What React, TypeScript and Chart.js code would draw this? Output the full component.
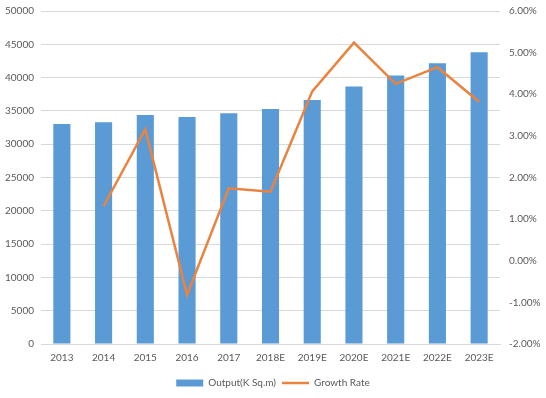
import React, { useEffect, useRef } from "react";
import { Chart, registerables } from "chart.js";

Chart.register(...registerables);

const categories = ["2013", "2014", "2015", "2016", "2017", "2018E", "2019E", "2020E", "2021E", "2022E", "2023E"];
const outputValues = [33050, 33300, 34400, 34100, 34650, 35300, 36650, 38650, 40300, 42150, 43800];
const growthRates: (number | null)[] = [null, 1.31, 3.16, -0.82, 1.74, 1.66, 4.07, 5.24, 4.25, 4.65, 3.82];
const leftTicks = { min: 0, max: 50000, step: 5000 };
const rightTicks = { min: -2, max: 6, step: 1 };

const FONT = "Lato, 'Open Sans', sans-serif";
const TEXT = "#595959";
const GRID = "#d9d9d9";

export default function App() {
  const ref = useRef<HTMLCanvasElement | null>(null);
  useEffect(() => {
    if (!ref.current) return;
    const chart = new Chart(ref.current, {
      type: "bar",
      data: {
        labels: categories,
        datasets: [
          {
            type: "line",
            label: "Growth Rate",
            data: growthRates,
            borderColor: "#EA833F",
            backgroundColor: "#EA833F",
            borderWidth: 2.5,
            pointRadius: 0,
            tension: 0,
            yAxisID: "y1",
            order: 0,
          } as any,
          {
            type: "bar",
            label: "Output(K Sq.m)",
            data: outputValues,
            backgroundColor: "#5B9BD5",
            categoryPercentage: 1,
            barPercentage: 0.41,
            yAxisID: "y",
            order: 1,
          } as any,
        ],
      },
      options: {
        animation: false,
        responsive: false,
        devicePixelRatio: 1,
        layout: { padding: { top: 0, left: 0, right: 0, bottom: 0 } },
        plugins: {
          tooltip: { enabled: false },
          legend: {
            position: "bottom",
            labels: {
              font: { family: FONT, size: 10 },
              color: TEXT,
              usePointStyle: true,
              pointStyleWidth: 27,
              boxHeight: 7,
              padding: 6,
              generateLabels: () => [
                {
                  text: "Output(K Sq.m)",
                  fillStyle: "#5B9BD5",
                  strokeStyle: "#5B9BD5",
                  lineWidth: 0,
                  pointStyle: "rect",
                  fontColor: TEXT,
                  datasetIndex: 1,
                } as any,
                {
                  text: "Growth Rate",
                  fillStyle: "#EA833F",
                  strokeStyle: "#EA833F",
                  lineWidth: 2.5,
                  pointStyle: "line",
                  fontColor: TEXT,
                  datasetIndex: 0,
                } as any,
              ],
            },
          },
        },
        scales: {
          x: {
            grid: { display: false, drawTicks: false },
            border: { color: GRID },
            ticks: { font: { family: FONT, size: 10 }, color: TEXT, padding: 8, maxRotation: 0, autoSkip: false },
          },
          y: {
            position: "left",
            min: leftTicks.min,
            max: leftTicks.max,
            grid: { color: GRID, drawTicks: false },
            border: { display: false },
            ticks: {
              stepSize: leftTicks.step,
              font: { family: FONT, size: 10 },
              color: TEXT,
              padding: 7,
              callback: (v: any) => String(v),
            },
            afterFit: (s: any) => { s.width = 41; s.paddingTop = 11; s.paddingBottom = 6; },
          },
          y1: {
            position: "right",
            min: rightTicks.min,
            max: rightTicks.max,
            grid: { display: false, drawTicks: false },
            border: { display: false },
            ticks: {
              stepSize: rightTicks.step,
              font: { family: FONT, size: 10 },
              color: TEXT,
              padding: 9,
              callback: (v: any) => Number(v).toFixed(2) + "%",
            },
            afterFit: (s: any) => { s.width = 46; s.paddingTop = 11; s.paddingBottom = 6; },
          },
        },
      } as any,
    });
    return () => chart.destroy();
  }, []);
  return (
    <div style={{ position: "fixed", left: 0, top: 0, width: 546, height: 398, background: "#fff" }}>
      <canvas ref={ref} width={546} height={398} style={{ width: 546, height: 398 }} />
    </div>
  );
}
